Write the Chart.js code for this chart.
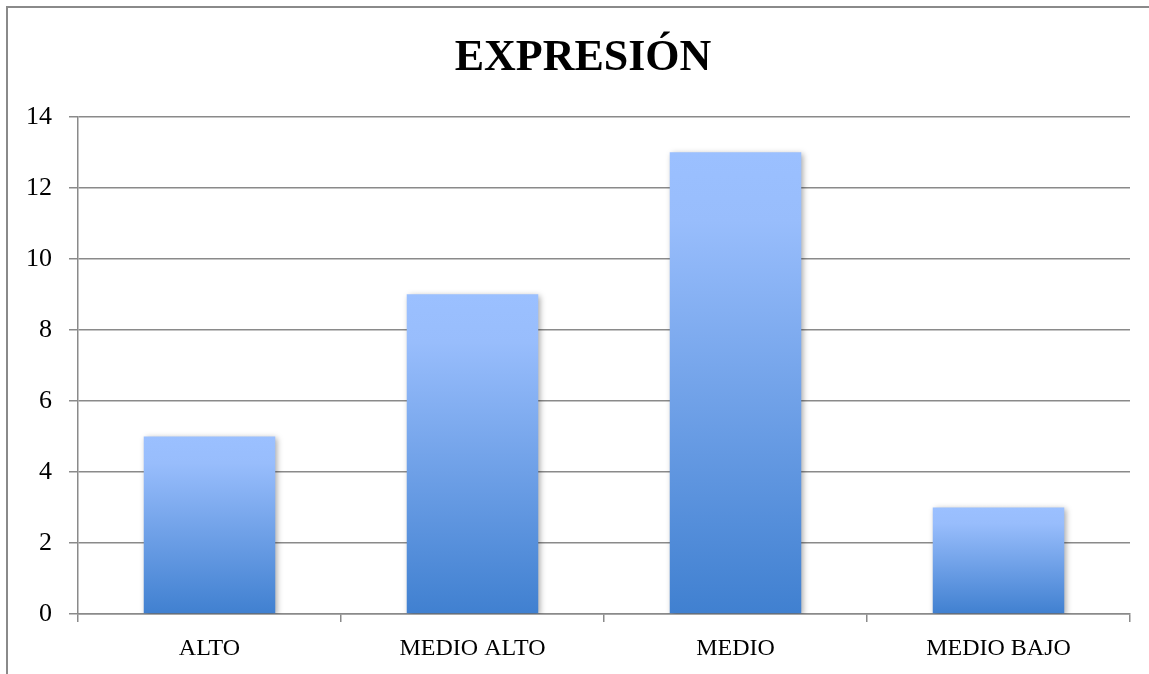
<!DOCTYPE html>
<html>
<head>
<meta charset="utf-8">
<script src="https://cdn.jsdelivr.net/npm/chart.js@4.4.0/dist/chart.umd.min.js"></script>
<style>
html,body{margin:0;padding:0;background:#fff;}
#wrap{position:relative;width:1149px;height:674px;}
</style>
</head>
<body>
<div id="wrap"><canvas id="c" width="1149" height="674"></canvas></div>
<script>
const chartTitle = "EXPRESIÓN";
const categories = ["ALTO", "MEDIO ALTO", "MEDIO", "MEDIO BAJO"];
const values = [5, 9, 13, 3];
const yMin = 0, yMax = 14, yStep = 2;

const gridColor = '#8a8a8a';
const fontFamily = "'Liberation Serif', 'DejaVu Serif', serif";

const framePlugin = {
  id: 'frame',
  beforeDraw(chart) {
    const ctx = chart.ctx;
    ctx.save();
    ctx.fillStyle = '#fff';
    ctx.fillRect(0, 0, chart.width, chart.height);
    ctx.strokeStyle = '#8a8a8a';
    ctx.lineWidth = 2;
    ctx.beginPath();
    ctx.moveTo(7, chart.height);
    ctx.lineTo(7, 7);
    ctx.lineTo(chart.width, 7);
    ctx.stroke();
    ctx.restore();
  }
};

// shift the title box so it is centred like the original
const titleShiftPlugin = {
  id: 'titleShift',
  afterLayout(chart) {
    const t = chart.titleBlock;
    if (t) { t.left = 36; }
  }
};

const shadowPlugin = {
  id: 'barShadow',
  beforeDatasetsDraw(chart) {
    const ctx = chart.ctx;
    ctx.save();
    ctx.shadowColor = 'rgba(0,0,0,0.35)';
    ctx.shadowBlur = 6;
    ctx.shadowOffsetX = 2;
    ctx.shadowOffsetY = 2;
  },
  afterDatasetsDraw(chart) {
    chart.ctx.restore();
  }
};

function barGradient(context) {
  const chart = context.chart;
  const yScale = chart.scales.y;
  if (!chart.chartArea || !yScale || context.dataIndex === undefined) return '#6a9ae8';
  const v = context.dataset.data[context.dataIndex];
  const top = yScale.getPixelForValue(v);
  const bottom = yScale.getPixelForValue(0);
  if (!isFinite(top) || !isFinite(bottom) || top === bottom) return '#6a9ae8';
  const g = chart.ctx.createLinearGradient(0, top, 0, bottom);
  g.addColorStop(0, 'rgb(155,192,255)');
  g.addColorStop(0.15, 'rgb(152,189,252)');
  g.addColorStop(1, 'rgb(64,128,208)');
  return g;
}

new Chart(document.getElementById('c'), {
  type: 'bar',
  data: {
    labels: categories,
    datasets: [{
      data: values,
      backgroundColor: barGradient,
      borderWidth: 0,
      categoryPercentage: 1.0,
      barPercentage: 0.5
    }]
  },
  options: {
    responsive: false,
    animation: false,
    devicePixelRatio: 1,
    layout: { padding: { left: 7, right: 19, top: 7, bottom: 11 } },
    plugins: {
      legend: { display: false },
      tooltip: { enabled: false },
      title: {
        display: true,
        text: chartTitle,
        color: '#000',
        font: { family: fontFamily, size: 44, weight: 'bold' },
        padding: { top: 25, bottom: 32 }
      }
    },
    scales: {
      x: {
        offset: true,
        afterFit(scale) { scale.height = 49; },
        grid: {
          offset: true,
          drawOnChartArea: false,
          drawTicks: true,
          tickLength: 8,
          color: gridColor,
          lineWidth: 1.5
        },
        border: { display: true, color: gridColor, width: 1.5 },
        ticks: {
          color: '#000',
          padding: 12,
          font: { family: fontFamily, size: 24 },
          maxRotation: 0
        }
      },
      y: {
        min: yMin,
        max: yMax,
        afterFit(scale) { scale.width = 71; },
        grid: {
          color: gridColor,
          lineWidth: 1.5,
          drawTicks: true,
          tickLength: 9
        },
        border: { display: true, color: gridColor, width: 1.5 },
        ticks: {
          stepSize: yStep,
          color: '#000',
          padding: 17,
          font: { family: fontFamily, size: 26 }
        }
      }
    }
  },
  plugins: [framePlugin, titleShiftPlugin, shadowPlugin]
});
</script>
</body>
</html>
